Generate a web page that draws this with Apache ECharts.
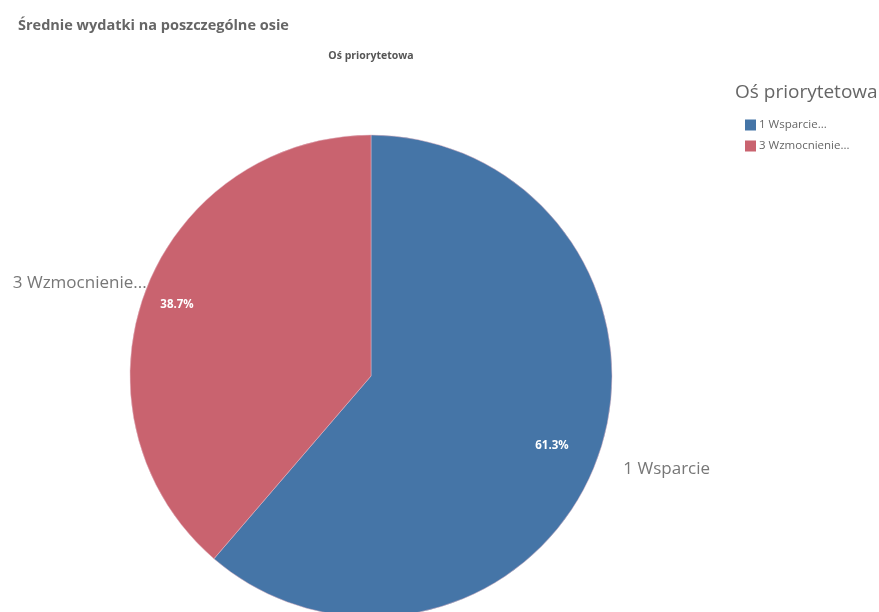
<!DOCTYPE html>
<html>
<head>
<meta charset="utf-8">
<script src="https://cdn.jsdelivr.net/npm/echarts@6/dist/echarts.min.js"></script>
<style>
html,body{margin:0;padding:0;background:#fff;}
#main{width:879px;height:612px;}
</style>
</head>
<body>
<div id="main"></div>
<script>
const categories = ['1 Wsparcie', '3 Wzmocnienie'];
const values = [61.3, 38.7];
const sliceLabels = ['1 Wsparcie', '3 Wzmocnienie...'];
const legendLabels = ['1 Wsparcie...', '3 Wzmocnienie...'];
const colors = ['#4575a7', '#c9636f'];

const chart = echarts.init(document.getElementById('main'));
const data = categories.map((c, i) => ({ name: c, value: values[i], itemStyle: { color: colors[i] } }));

chart.setOption({
  animation: false,
  title: [
    { text: 'Średnie wydatki na poszczególne osie', left: 18, top: 18, padding: 0,
      textStyle: { fontFamily: 'Open Sans', fontWeight: 'bold', fontSize: 14.5, color: '#666' } },
    { text: 'Oś priorytetowa', left: 371, top: 51, padding: 0, textAlign: 'center',
      textStyle: { fontFamily: 'Open Sans', fontWeight: 'bold', fontSize: 10.5, color: '#555' } },
    { text: 'Oś priorytetowa', left: 735, top: 83, padding: 0,
      textStyle: { fontFamily: 'Open Sans', fontWeight: 'normal', fontSize: 19, color: '#666' } }
  ],
  legend: {
    orient: 'vertical', left: 745, top: 119, padding: 0, itemWidth: 11, itemHeight: 11, itemGap: 9,
    icon: 'rect', data: categories,
    itemStyle: { borderWidth: 0 },
    formatter: name => legendLabels[categories.indexOf(name)],
    textStyle: { fontFamily: 'Open Sans', fontSize: 11.5, color: '#666', padding: [0, 0, 0, -2] }
  },
  series: [
    {
      type: 'pie', center: [371, 376], radius: 241, startAngle: 90, clockwise: true,
      data: data,
      itemStyle: { borderColor: '#e2b6c4', borderWidth: 0.5 },
      label: {
        show: true, position: 'outside', overflow: 'none',
        formatter: p => sliceLabels[p.dataIndex],
        fontFamily: 'Open Sans', fontSize: 17, color: '#777', distanceToLabelLine: 2
      },
      labelLine: { show: false, length: 26, length2: 0 },
      labelLayout: p => p.dataIndex === 1 ? { dx: 28 } : {}
    },
    {
      type: 'pie', center: [371, 376], radius: 380, startAngle: 90, clockwise: true, silent: true,
      data: data.map(d => ({ name: d.name, value: d.value })),
      itemStyle: { color: 'rgba(0,0,0,0)' },
      percentPrecision: 1,
      label: {
        show: true, position: 'inside', formatter: '{d}%',
        fontFamily: 'Open Sans', fontWeight: 'bold', fontSize: 11.5, color: '#fff'
      },
      labelLine: { show: false },
      labelLayout: p => p.dataIndex === 1 ? { dx: -13, dy: -4 } : { dy: 3 }
    }
  ]
});
</script>
</body>
</html>
